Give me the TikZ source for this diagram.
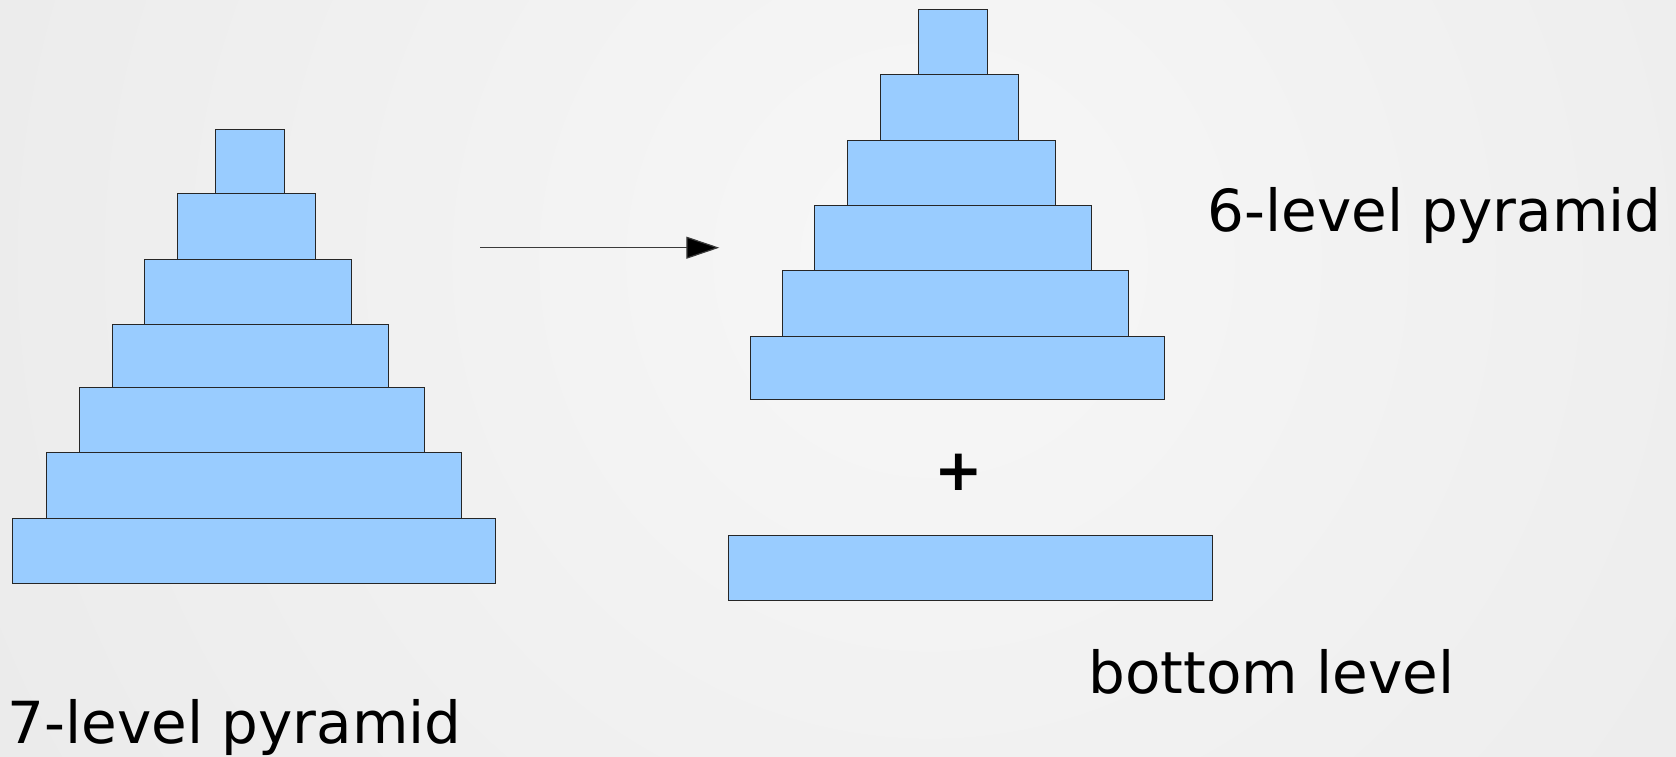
\documentclass[tikz,border=0pt]{standalone}
\usepackage{fontspec}
\setmainfont{DejaVu Sans}
\usetikzlibrary{arrows.meta}
\definecolor{boxblue}{HTML}{99CCFF}
\definecolor{bgin}{HTML}{F7F7F7}
\definecolor{bgout}{HTML}{E0E0E0}
\definecolor{arrowgrey}{HTML}{3A3A3A}
\tikzset{
  blk/.style={draw=black!85, line width=0.9pt, fill=boxblue, inner sep=0pt, outer sep=0pt},
  lbl/.style={font=\fontsize{58}{60}\selectfont, inner sep=0pt, anchor=base, text=black},
}
\begin{document}
\begin{tikzpicture}[x=1pt,y=-1pt]
  % background
  \useasboundingbox (0,0) rectangle (1676,756);
  \begin{scope}
    \clip (0,0) rectangle (1676,756);
    \shade[inner color=bgin, outer color=bgout] (930,260) circle (2000);
  \end{scope}
  % left 7-level pyramid
  \node[blk, minimum width=483.7, minimum height=65] (L7) at (253.8,550.8) {};
  \node[blk, minimum width=414.6, minimum height=65.6] (L6) at (254,485.5) {};
  \node[blk, minimum width=345.3, minimum height=65] (L5) at (251.7,420.2) {};
  \node[blk, minimum width=276.3, minimum height=63.7] (L4) at (250.2,355.8) {};
  \node[blk, minimum width=207.4, minimum height=65] (L3) at (248,291.5) {};
  \node[blk, minimum width=138, minimum height=65.3] (L2) at (246.3,226.3) {};
  \node[blk, minimum width=68.6, minimum height=64.7] (L1) at (250,161.3) {};
  % right 6-level pyramid
  \node[blk, minimum width=414.3, minimum height=63.3] (R6) at (957.2,367.7) {};
  \node[blk, minimum width=345.6, minimum height=65.7] (R5) at (955.5,303.2) {};
  \node[blk, minimum width=276.6, minimum height=65] (R4) at (953,237.8) {};
  \node[blk, minimum width=207.3, minimum height=65.3] (R3) at (951.3,172.7) {};
  \node[blk, minimum width=138, minimum height=65.3] (R2) at (949.3,107.3) {};
  \node[blk, minimum width=69.4, minimum height=65] (R1) at (953,42.2) {};
  % bottom level
  \node[blk, minimum width=484, minimum height=65] (B) at (970.7,567.5) {};
  % plus
  \node[font=\fontsize{58}{60}\selectfont\bfseries, inner sep=0pt] (plus) at (958.3,472) {+};
  % arrow
  \coordinate (as) at (480,247.7);
  \coordinate (ae) at (719.3,247.7);
  \draw[arrowgrey, line width=1.2pt, -{Triangle[length=33pt,width=22pt,fill=black]}] (as) -- (ae);
  % labels
  \node[lbl] (t7) at (234.7,743.3) {7-level pyramid};
  \node[lbl] (t6) at (1434.5,231.7) {6-level pyramid};
  \node[lbl] (tb) at (1271.5,693.3) {bottom level};
\end{tikzpicture}
\end{document}
